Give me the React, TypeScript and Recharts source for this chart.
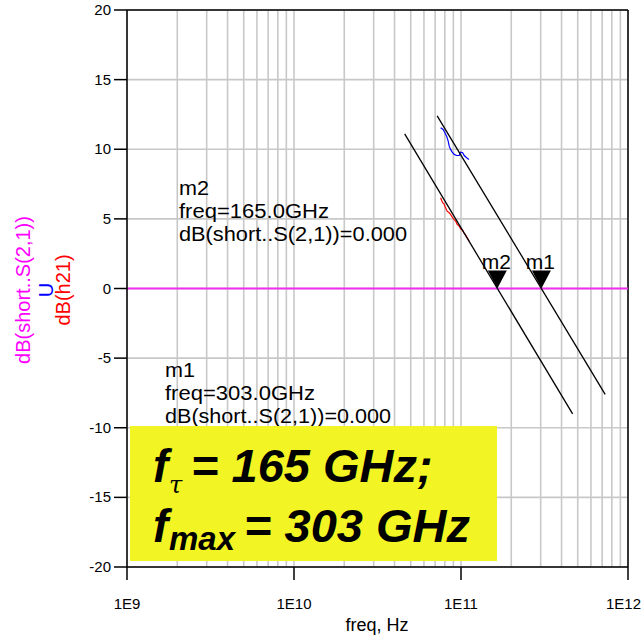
import {
  ComposedChart,
  Line,
  XAxis,
  YAxis,
  CartesianGrid,
  ReferenceLine,
  ReferenceDot,
} from "recharts";

// axis ticks
const decades = [1e9, 1e10, 1e11, 1e12];
const decadeLabels = ["1E9", "1E10", "1E11", "1E12"];
const minorSteps = [2, 3, 4, 5, 6, 7, 8, 9];
const yTicks = [-20, -15, -10, -5, 0, 5, 10, 15, 20];

// dB(short..S(2,1)) reference line
const s21Freq = [1e9, 1e12];
const s21Db = [0, 0];

// -20 dB/dec fit lines
const fitMaxFreq = [7.2e10, 7.3e11];
const fitMaxDb = [12.4, -7.6];
const fitTFreq = [4.6e10, 4.66e11];
const fitTDb = [11.1, -9.0];

// U (blue)
const uFreq = [
  7.55e10, 7.82e10, 8.01e10, 8.2e10, 8.38e10, 8.5e10, 8.66e10, 8.86e10,
  9.11e10, 9.41e10, 9.75e10, 9.95e10, 1.023e11, 1.045e11, 1.081e11, 1.115e11,
];
const uDb = [
  11.54, 11.42, 11.19, 10.94, 10.58, 10.22, 9.99, 9.79, 9.63, 9.55, 9.55, 9.79,
  9.75, 9.55, 9.39, 9.27,
];

// dB(h21) (red)
const h21Freq = [
  7.55e10, 7.65e10, 7.76e10, 7.91e10, 8.01e10, 8.12e10, 8.26e10, 8.5e10,
  8.66e10, 8.91e10, 9.07e10, 9.31e10, 9.48e10, 9.75e10, 9.95e10, 1.023e11,
  1.04e11, 1.069e11, 1.089e11, 1.119e11,
];
const h21Db = [
  6.52, 6.34, 6.16, 6.08, 5.91, 5.75, 5.55, 5.44, 5.32, 5.08, 4.96, 4.83, 4.6,
  4.48, 4.29, 4.19, 4.0, 3.81, 3.64, 3.4,
];

// markers
const markerNames = ["m1", "m2"];
const markerFreq = [303e9, 165e9];
const markerDb = [0, 0];

const xTicks = [
  ...decades.slice(0, 3).flatMap((d) => [d, ...minorSteps.map((m) => m * d)]),
  decades[3],
];

const toRows = (f: number[], v: number[]) => f.map((x, i) => ({ f: x, v: v[i] }));

const FONT = "'Liberation Sans', Arial, sans-serif";

const XTick = (props: any) => {
  const { x, y, payload } = props;
  const i = decades.indexOf(payload.value);
  if (i < 0) return <g />;
  const last = i === decades.length - 1;
  return (
    <g>
      <line x1={x} x2={x} y1={y} y2={y + 13} stroke="#000" strokeWidth={1.5} />
      <text
        x={last ? x + 13 : x}
        y={y + 42}
        textAnchor={last ? "end" : "middle"}
        fontSize={15}
        fill="#000"
      >
        {decadeLabels[i]}
      </text>
    </g>
  );
};

const YTick = (props: any) => {
  const { x, y, payload } = props;
  return (
    <g>
      <line x1={x - 13} x2={x} y1={y} y2={y} stroke="#000" strokeWidth={1.5} />
      <text x={x - 16} y={y + 5} textAnchor="end" fontSize={15} fill="#000">
        {payload.value}
      </text>
    </g>
  );
};

const markerShape = (name: string) => (p: any) => {
  const { cx, cy } = p;
  return (
    <g>
      <path
        d={`M${cx - 9.5},${cy - 18} L${cx + 9.5},${cy - 18} L${cx},${cy} Z`}
        fill="#000"
      />
      <text x={cx - 1} y={cy - 20} textAnchor="middle" fontSize={21} fill="#000">
        {name}
      </text>
    </g>
  );
};

export default function App() {
  return (
    <div
      style={{
        position: "absolute",
        left: 0,
        top: 0,
        width: 643,
        height: 639,
        background: "#fff",
        fontFamily: FONT,
      }}
    >
      <ComposedChart
        width={643}
        height={639}
        margin={{ top: 10, right: 15, bottom: 0, left: 0 }}
      >
        <CartesianGrid stroke="#c8c8c8" strokeWidth={1.6} />
        <XAxis
          dataKey="f"
          type="number"
          scale="log"
          domain={[1e9, 1e12]}
          ticks={xTicks}
          interval={0}
          allowDataOverflow
          height={72}
          tickSize={0}
          tickMargin={0}
          tickLine={false}
          axisLine={{ stroke: "#000", strokeWidth: 1.5 }}
          tick={<XTick />}
        />
        <YAxis
          type="number"
          domain={[-20, 20]}
          ticks={yTicks}
          interval={0}
          allowDataOverflow
          width={127}
          tickSize={0}
          tickMargin={0}
          tickLine={false}
          axisLine={{ stroke: "#000", strokeWidth: 1.5 }}
          tick={<YTick />}
        />
        <ReferenceLine y={20} stroke="#000" strokeWidth={1.5} />
        <ReferenceLine x={1e12} stroke="#000" strokeWidth={1.5} />
        <Line
          data={toRows(s21Freq, s21Db)}
          dataKey="v"
          stroke="#f030f0"
          strokeWidth={2}
          dot={false}
          isAnimationActive={false}
        />
        <Line
          data={toRows(uFreq, uDb)}
          dataKey="v"
          stroke="#0000ff"
          strokeWidth={1.2}
          dot={false}
          isAnimationActive={false}
        />
        <Line
          data={toRows(h21Freq, h21Db)}
          dataKey="v"
          stroke="#ff0000"
          strokeWidth={1.2}
          dot={false}
          isAnimationActive={false}
        />
        <Line
          data={toRows(fitMaxFreq, fitMaxDb)}
          dataKey="v"
          stroke="#000"
          strokeWidth={1.3}
          dot={false}
          isAnimationActive={false}
        />
        <Line
          data={toRows(fitTFreq, fitTDb)}
          dataKey="v"
          stroke="#000"
          strokeWidth={1.3}
          dot={false}
          isAnimationActive={false}
        />
        {markerNames.map((n, i) => (
          <ReferenceDot
            key={n}
            x={markerFreq[i]}
            y={markerDb[i]}
            shape={markerShape(n)}
          />
        ))}
      </ComposedChart>
      <svg
        width={643}
        height={639}
        style={{ position: "absolute", left: 0, top: 0, pointerEvents: "none" }}
        fontFamily={FONT}
      >
        {/* y axis titles */}
        <text
          transform="translate(23,290) rotate(-90)"
          textAnchor="middle"
          dominantBaseline="central"
          fontSize={20}
          fill="#ff00ff"
        >
          dB(short..S(2,1))
        </text>
        <text
          transform="translate(46,290) rotate(-90)"
          textAnchor="middle"
          dominantBaseline="central"
          fontSize={20}
          fill="#0000ff"
        >
          U
        </text>
        <text
          transform="translate(63,290) rotate(-90)"
          textAnchor="middle"
          dominantBaseline="central"
          fontSize={20}
          fill="#ff0000"
        >
          dB(h21)
        </text>
        <text x={377} y={631} textAnchor="middle" fontSize={18} fill="#000">
          freq, Hz
        </text>

        {/* marker readouts */}
        <g fontSize={20} fill="#000">
          <text x={179} y={195} textLength={30} lengthAdjust="spacingAndGlyphs">m2</text>
          <text x={179} y={218} textLength={150} lengthAdjust="spacingAndGlyphs">freq=165.0GHz</text>
          <text x={179} y={241} textLength={228} lengthAdjust="spacingAndGlyphs">dB(short..S(2,1))=0.000</text>
          <text x={165} y={377} textLength={30} lengthAdjust="spacingAndGlyphs">m1</text>
          <text x={165} y={400} textLength={150} lengthAdjust="spacingAndGlyphs">freq=303.0GHz</text>
          <text x={165} y={423} textLength={226} lengthAdjust="spacingAndGlyphs">dB(short..S(2,1))=0.000</text>
        </g>

        {/* highlight box */}
        <rect x={130} y={426} width={367} height={135} fill="#f2f523" />
        <g fontWeight="bold" fontStyle="italic" fill="#000">
          <text x={153} y={482} fontSize={46}>f</text>
          <text
            x={169}
            y={493}
            fontSize={24}
            fontFamily="'DejaVu Serif', serif"
            fontWeight="normal"
          >
            τ
          </text>
          <text x={191} y={482} fontSize={47}>= 165 GHz;</text>
          <text x={153} y={542} fontSize={46}>f</text>
          <text x={169} y={550} fontSize={33}>max</text>
          <text x={244} y={542} fontSize={47}>= 303 GHz</text>
        </g>
      </svg>
    </div>
  );
}
